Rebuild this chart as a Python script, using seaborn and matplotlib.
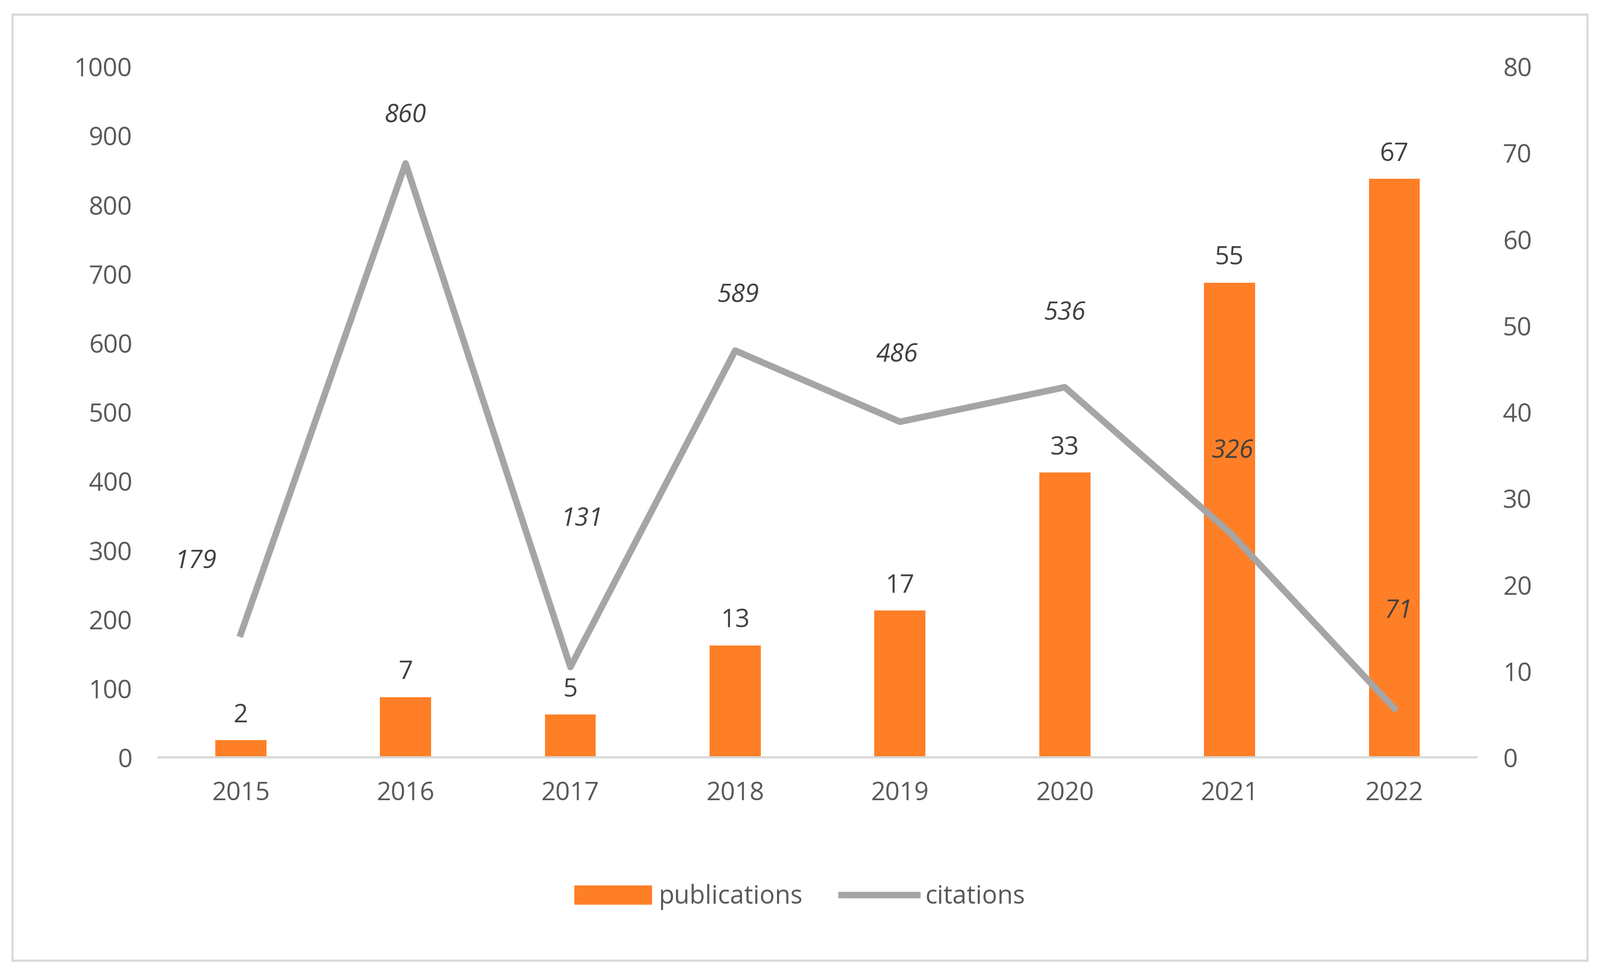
import matplotlib
matplotlib.use("Agg")
import matplotlib.pyplot as plt
import seaborn as sns
import pandas as pd
from matplotlib.patches import Patch, Rectangle
from matplotlib.lines import Line2D

years = ["2015", "2016", "2017", "2018", "2019", "2020", "2021", "2022"]
publications = [2, 7, 5, 13, 17, 33, 55, 67]
citations = [179, 860, 131, 589, 486, 536, 326, 71]
cit_label_offsets = [(-31, 41), (0, 24), (8, 93), (2, 29), (-2, 37), (0, 42), (2, 47), (3, 58)]

df = pd.DataFrame({"year": years, "publications": publications, "citations": citations})

plt.rcParams["font.family"] = "Open Sans"
TXT = "#595959"
ORANGE = "#FF7F27"
GRAY = "#A5A5A5"
FS = 17.5

fig = plt.figure(figsize=(15.31, 9.375), dpi=200)
fig.patches.append(Rectangle((0.008, 0.02), 0.984, 0.965, transform=fig.transFigure,
                             fill=False, edgecolor="#D9D9D9", linewidth=1.5))
ax = fig.add_axes([0.099, 0.227, 0.824, 0.705])
sns.barplot(data=df, x="year", y="publications", color=ORANGE, width=0.31,
            saturation=1, ax=ax)
ax.set_ylim(0, 80)
ax.set_yticks(range(0, 81, 10))
for i, v in enumerate(publications):
    ax.annotate(str(v), (i, v), xytext=(0, 8), textcoords="offset points",
                ha="center", va="bottom", fontsize=FS, color="#404040")

ax2 = ax.twinx()
ax.yaxis.tick_right()
sns.lineplot(x=list(range(len(years))), y=citations, color=GRAY, linewidth=4.5, ax=ax2)
ax2.set_ylim(0, 1000)
ax2.set_yticks(range(0, 1001, 100))
ax2.yaxis.tick_left()
for i, (v, off) in enumerate(zip(citations, cit_label_offsets)):
    ax2.annotate(str(v), (i, v), xytext=off, textcoords="offset points",
                 ha="center", va="bottom", fontsize=FS, color="#404040", style="italic")

ax.set_xlim(-0.5, 7.5)
for a in (ax, ax2):
    for s in a.spines.values():
        s.set_visible(False)
    a.tick_params(length=0, labelsize=FS, labelcolor=TXT, pad=18)
    a.set_xlabel("")
    a.set_ylabel("")
ax.spines["bottom"].set_visible(True)
ax.spines["bottom"].set_color("#D9D9D9")
ax.spines["bottom"].set_linewidth(1.5)
ax.tick_params(axis="x", pad=16)

handles = [Patch(color=ORANGE, label="publications"),
           Line2D([0], [0], color=GRAY, linewidth=4.5, label="citations")]
fig.legend(handles=handles, loc="center", bbox_to_anchor=(0.5, 0.085), ncol=2,
           frameon=False, fontsize=FS, labelcolor=TXT, handlelength=3, columnspacing=1.5,
           handletextpad=0.3)
fig.savefig("out.png", dpi=200)
